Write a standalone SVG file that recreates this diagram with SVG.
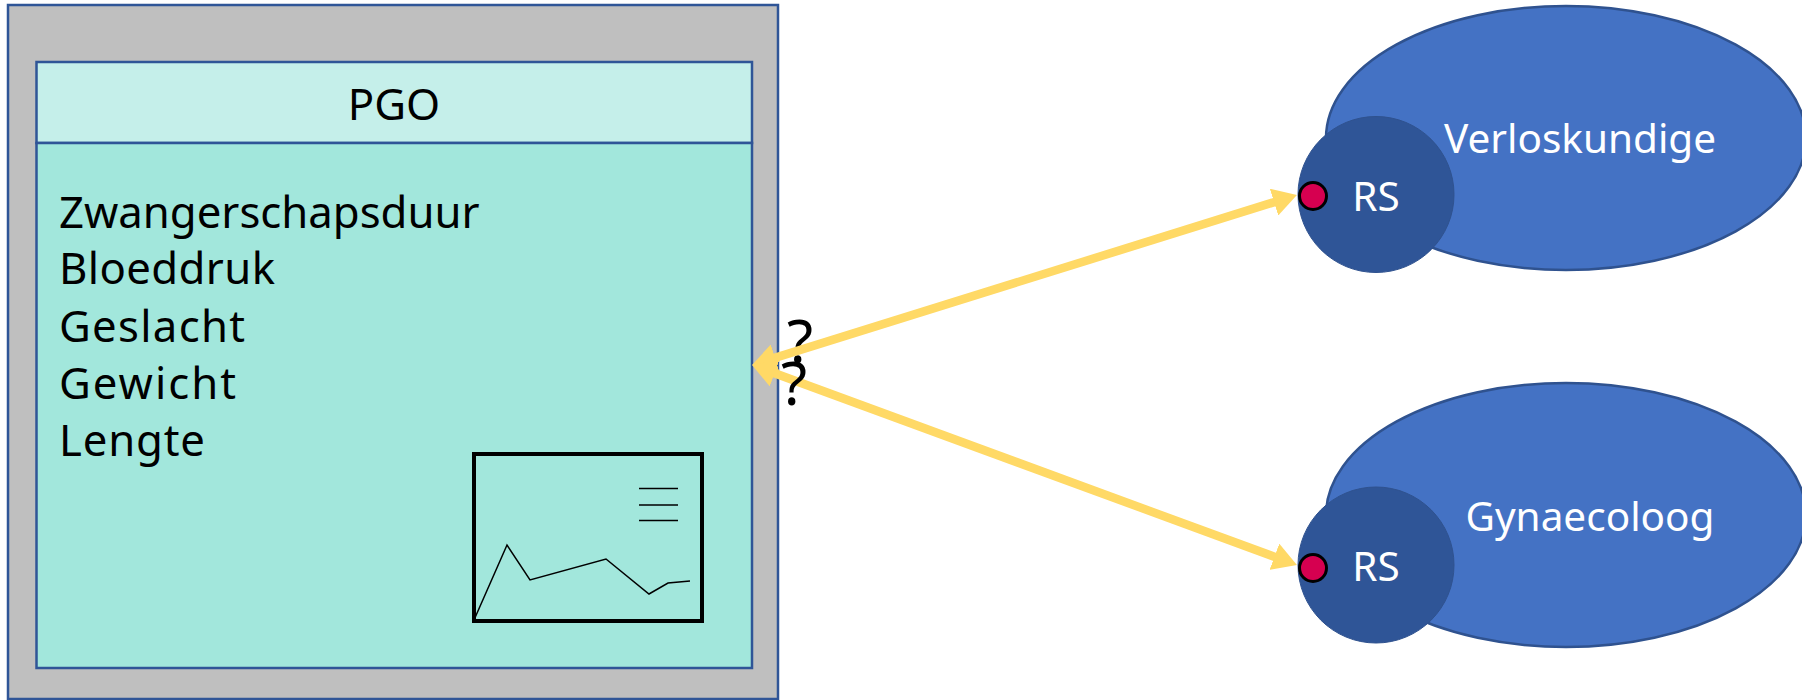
<svg xmlns="http://www.w3.org/2000/svg" width="1802" height="700" viewBox="0 0 1802 700">
<style>
text{font-family:"Noto Sans","Open Sans","DejaVu Sans",sans-serif}
.b{stroke:#2F5597;stroke-width:2.5}
.k{font-size:43.700px;fill:#000}
.w{font-size:40.500px;fill:#fff;text-anchor:middle}
.e{fill:#4472C4;stroke:#2F528F;stroke-width:2.5}
.c{fill:#2F5597;stroke:#2F528F;stroke-width:1}
.d{fill:#D60050;stroke:#000;stroke-width:3}
.a{stroke:#FFD966;stroke-width:8.500;fill:none;marker-start:url(#h);marker-end:url(#h)}
.t{fill:none;stroke:#000;stroke-width:1.5}
.q{font-size:60px;fill:#000;text-anchor:middle}
</style>
<defs><marker id="h" orient="auto-start-reverse" markerUnits="userSpaceOnUse" markerWidth="24" markerHeight="28" refX="12" refY="14" viewBox="0 0 24 28"><path d="M0 0L24 14L0 28Z" fill="#FFD966"/></marker></defs>
<rect width="1802" height="700" fill="#fff"/>
<g id="pgo-frame"><rect class="b" x="8" y="5" width="770" height="694" fill="#BFBFBF"/></g>
<g id="pgo">
<rect class="b" x="36.500" y="62" width="715.500" height="81" fill="#C5EFEA"/>
<rect class="b" x="36.500" y="143" width="715.500" height="525" fill="#A2E7DC"/>
<text class="k" x="394" y="120" text-anchor="middle">PGO</text>
<text class="k" x="59" y="228">Zwangerschapsduur</text>
<text class="k" x="59" y="284" textLength="216">Bloeddruk</text>
<text class="k" x="59" y="342" textLength="186">Geslacht</text>
<text class="k" x="59" y="399" textLength="177">Gewicht</text>
<text class="k" x="59" y="456" textLength="146">Lengte</text>
</g>
<g id="chart">
<rect x="474" y="454" width="228" height="167" fill="none" stroke="#000" stroke-width="4"/>
<polyline class="t" points="474,620 507,545 530,580 606,559 649,594 668,583 690,581"/>
<path class="t" d="M639 488.500H678M639 505H678M639 520.500H678"/>
</g>
<g id="verloskundige"><ellipse class="e" cx="1566" cy="138" rx="240" ry="132"/><text class="w" x="1580" y="153">Verloskundige</text></g>
<g id="gynaecoloog"><ellipse class="e" cx="1566" cy="515" rx="240" ry="132"/><text class="w" x="1590" y="531">Gynaecoloog</text></g>
<g id="rs1"><circle class="c" cx="1376" cy="194.500" r="78"/><text class="w" x="1376" y="211">RS</text></g>
<g id="rs2"><circle class="c" cx="1376" cy="565" r="78"/><text class="w" x="1376" y="581">RS</text></g>
<g id="q1"><text class="q" x="800" y="363">?</text></g>
<g id="connectors">
<path class="a" d="M763.500 361.400L1285.500 198.600"/>
<path class="a" d="M763.300 369.100L1285.700 560.900"/>
</g>
<g id="port1"><circle class="d" cx="1313" cy="196" r="13.500"/></g>
<g id="port2"><circle class="d" cx="1313" cy="568" r="13.500"/></g>
<g id="q2"><text class="q" x="794" y="405">?</text></g>
</svg>
